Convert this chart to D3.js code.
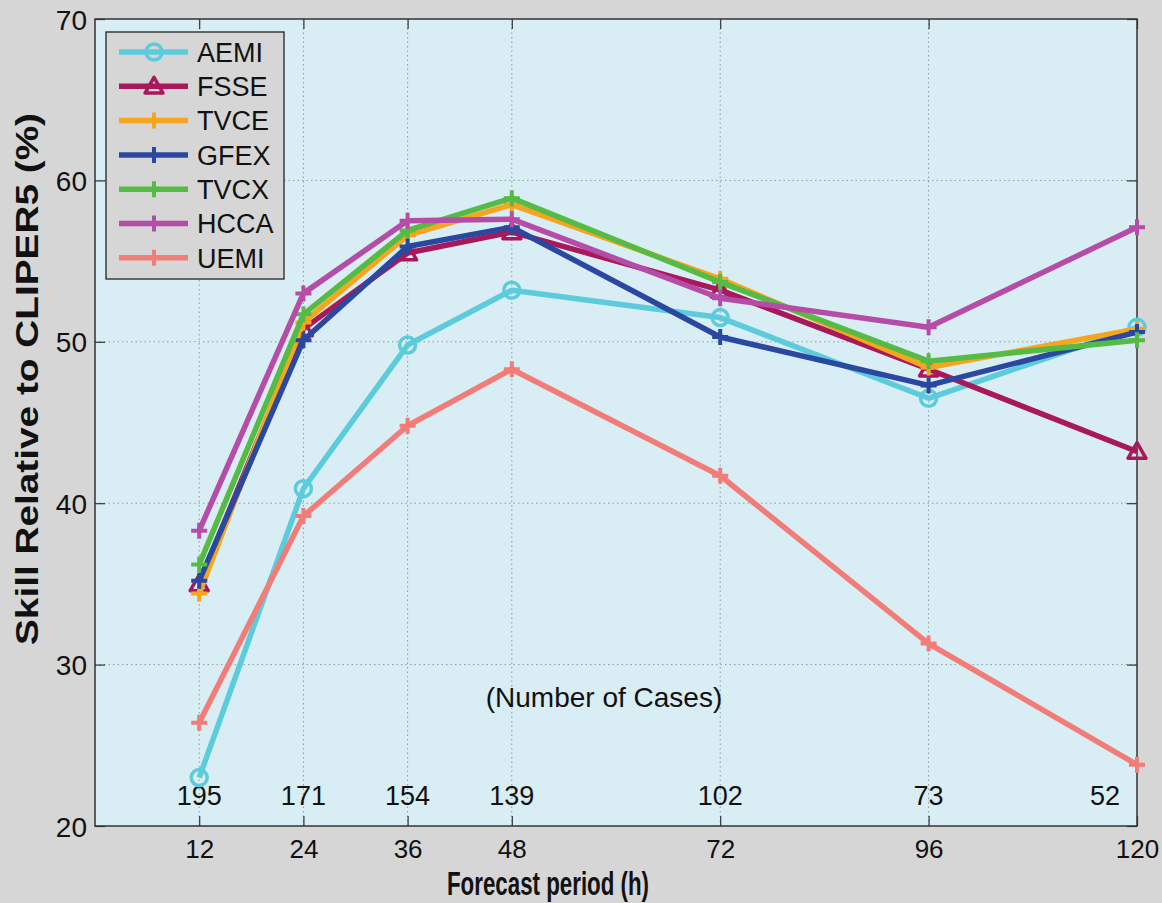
<!DOCTYPE html>
<html><head><meta charset="utf-8">
<script src="https://cdn.jsdelivr.net/npm/d3@7"></script>
<style>body{margin:0;background:#d6d6d6;}svg{display:block;}</style>
</head><body>
<script>
const hours = [12, 24, 36, 48, 72, 96, 120];
const cases = [195, 171, 154, 139, 102, 73, 52];
const yTicks = [20, 30, 40, 50, 60, 70];
const seriesNames = ["AEMI", "FSSE", "TVCE", "GFEX", "TVCX", "HCCA", "UEMI"];
const AEMI = [23.0, 40.9, 49.8, 53.2, 51.5, 46.5, 50.9];
const FSSE = [35.0, 50.8, 55.5, 56.8, 53.2, 48.3, 43.2];
const TVCE = [34.4, 51.2, 56.6, 58.5, 53.9, 48.4, 50.8];
const GFEX = [35.2, 50.1, 55.9, 57.1, 50.3, 47.3, 50.6];
const TVCX = [36.2, 51.7, 56.9, 58.9, 53.7, 48.8, 50.1];
const HCCA = [38.3, 53.0, 57.5, 57.6, 52.7, 50.9, 57.1];
const UEMI = [26.4, 39.2, 44.8, 48.3, 41.7, 31.3, 23.8];
const colors = ["#5ccbdb", "#a8195c", "#f6a51f", "#2a48a0", "#55bb44", "#b54ca8", "#f27c78"];
const markers = ["circle", "triangle", "plus", "plus", "plus", "plus", "plus"];
const values = [AEMI, FSSE, TVCE, GFEX, TVCX, HCCA, UEMI];

const W = 1162, H = 903;
const L = 95, R = 1137, T = 19, B = 826;
const svg = d3.select("body").append("svg").attr("width", W).attr("height", H);
svg.append("rect").attr("width", W).attr("height", H).attr("fill", "#d6d6d6");

const x = d3.scaleLinear().domain([0, 120]).range([L, R]);
const y = d3.scaleLinear().domain([20, 70]).range([B, T]);

svg.append("rect").attr("x", L).attr("y", T).attr("width", R - L).attr("height", B - T).attr("fill", "#d8eef4");

// grid
const grid = svg.append("g").attr("stroke", "#8a9a9e").attr("stroke-width", 1).attr("stroke-dasharray", "1.5,3");
grid.selectAll(".gx").data(hours.filter(h => h < 120)).enter().append("line")
  .attr("x1", d => x(d)).attr("x2", d => x(d)).attr("y1", T).attr("y2", B);
grid.selectAll(".gy").data(yTicks.filter(v => v > 20 && v < 70)).enter().append("line")
  .attr("x1", L).attr("x2", R).attr("y1", d => y(d)).attr("y2", d => y(d));

// axes with inner ticks
const fontMain = "'Liberation Sans', Arial, sans-serif";
const xAxis = d3.axisBottom(x).tickValues(hours).tickSizeInner(-10).tickSizeOuter(0).tickPadding(14);
const gx = svg.append("g").attr("transform", `translate(0,${B})`).call(xAxis);
const xTop = d3.axisTop(x).tickValues(hours).tickSizeInner(-10).tickSizeOuter(0).tickFormat("");
svg.append("g").attr("transform", `translate(0,${T})`).call(xTop);
const yAxis = d3.axisLeft(y).tickValues(yTicks).tickSizeInner(-10).tickSizeOuter(0).tickPadding(8);
const gy = svg.append("g").attr("transform", `translate(${L},0)`).call(yAxis);
const yRight = d3.axisRight(y).tickValues(yTicks).tickSizeInner(-10).tickSizeOuter(0).tickFormat("");
svg.append("g").attr("transform", `translate(${R},0)`).call(yRight);
svg.selectAll(".domain").remove();
svg.selectAll(".tick line").attr("stroke", "#333").attr("stroke-width", 1.2);
gx.selectAll("text").attr("font-family", fontMain).attr("font-size", 26).attr("fill", "#111").attr("dy", "0.71em");
gy.selectAll("text").attr("font-family", fontMain).attr("font-size", 28).attr("fill", "#111").attr("dy", "0.36em");

// frame
svg.append("rect").attr("x", L).attr("y", T).attr("width", R - L).attr("height", B - T)
  .attr("fill", "none").attr("stroke", "#333").attr("stroke-width", 1.5);

// cases labels (last one kept inside the frame)
svg.append("g").selectAll("text").data(hours).enter().append("text")
  .attr("x", d => d === 120 ? x(d) - 17 : x(d)).attr("y", 805)
  .attr("text-anchor", d => d === 120 ? "end" : "middle")
  .attr("font-family", fontMain).attr("font-size", 27).attr("fill", "#111")
  .text((d, i) => cases[i]);
svg.append("text").attr("x", 604).attr("y", 707).attr("text-anchor", "middle")
  .attr("font-family", fontMain).attr("font-size", 28).attr("fill", "#111").text("(Number of Cases)");

// series
const line = d3.line().x((d, i) => x(hours[i])).y(d => y(d));
function drawMarker(g, type, cx, cy, color) {
  if (type === "circle") {
    g.append("circle").attr("cx", cx).attr("cy", cy).attr("r", 8).attr("fill", "none")
      .attr("stroke", color).attr("stroke-width", 3.5);
  } else if (type === "triangle") {
    const s = 9;
    g.append("path").attr("d", `M${cx},${cy - s}L${cx + s},${cy + s * 0.75}L${cx - s},${cy + s * 0.75}Z`)
      .attr("fill", "none").attr("stroke", color).attr("stroke-width", 3.5).attr("stroke-linejoin", "round");
  } else {
    const s = 8;
    g.append("path").attr("d", `M${cx - s},${cy}H${cx + s}M${cx},${cy - s}V${cy + s}`)
      .attr("fill", "none").attr("stroke", color).attr("stroke-width", 4);
  }
}
values.forEach((vals, k) => {
  const g = svg.append("g");
  g.append("path").datum(vals).attr("d", line).attr("fill", "none")
    .attr("stroke", colors[k]).attr("stroke-width", 5.5).attr("stroke-linejoin", "round");
  vals.forEach((v, i) => drawMarker(g, markers[k], x(hours[i]), y(v), colors[k]));
});

// legend
const lg = svg.append("g");
lg.append("rect").attr("x", 106).attr("y", 32).attr("width", 178).attr("height", 247)
  .attr("fill", "#d6d6d6").attr("stroke", "#222").attr("stroke-width", 1.3);
seriesNames.forEach((n, k) => {
  const cy = 52 + k * 34.3;
  lg.append("line").attr("x1", 119).attr("x2", 188).attr("y1", cy).attr("y2", cy)
    .attr("stroke", colors[k]).attr("stroke-width", 5.5);
  drawMarker(lg, markers[k], 154, cy, colors[k]);
  lg.append("text").attr("x", 197).attr("y", cy).attr("dy", "0.36em")
    .attr("font-family", fontMain).attr("font-size", 27).attr("fill", "#111").text(n);
});

// axis titles
svg.append("text").attr("x", 548).attr("y", 895).attr("text-anchor", "middle")
  .attr("font-family", fontMain).attr("font-weight", "bold").attr("font-size", 33).attr("fill", "#111")
  .attr("textLength", 202).attr("lengthAdjust", "spacingAndGlyphs").text("Forecast period (h)");
svg.append("text").attr("transform", "translate(38,379) rotate(-90)").attr("text-anchor", "middle")
  .attr("font-family", fontMain).attr("font-weight", "bold").attr("font-size", 32).attr("fill", "#111")
  .attr("textLength", 532).attr("lengthAdjust", "spacingAndGlyphs").text("Skill Relative to CLIPER5 (%)");
</script>
</body></html>
